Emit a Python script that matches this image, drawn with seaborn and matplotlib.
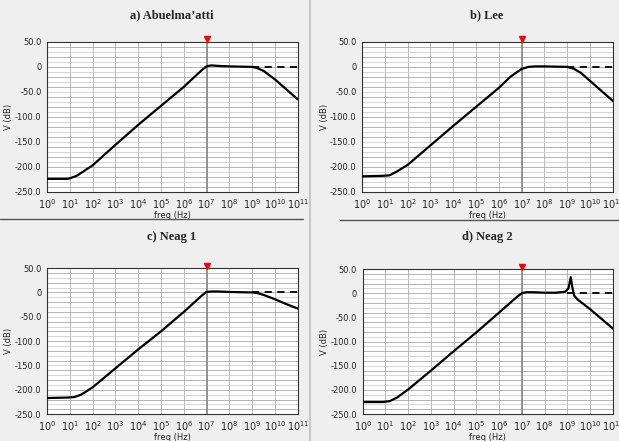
import numpy as np
import pandas as pd
import matplotlib
matplotlib.use('Agg')
import matplotlib.pyplot as plt
import seaborn as sns

# log10(freq) points and V(dB)
a_logf = [0, 0.9, 1.0, 1.3, 1.5, 2, 3, 4, 5, 6, 6.8, 7.0, 7.2, 7.5, 8, 9, 9.2, 9.5, 10, 10.5, 11]
a_db = [-224, -224, -223, -218, -212, -197, -156, -116, -78, -40, -6, 1, 3, 2, 1, 0, -2, -8, -25, -45, -65]

b_logf = [0, 0.9, 1.2, 1.5, 2, 3, 4, 5, 6, 6.5, 7.0, 7.3, 7.6, 8, 9, 9.3, 9.6, 10, 10.5, 11]
b_db = [-219, -218, -217, -210, -196, -157, -118, -80, -42, -20, -4, 0, 1, 1, 0, -4, -12, -28, -48, -68]

c_logf = [0, 0.9, 1.2, 1.5, 2, 3, 4, 5, 6, 6.8, 7.0, 7.2, 7.5, 8, 9, 9.2, 9.5, 10, 10.5, 11]
c_db = [-217, -216, -215, -210, -195, -156, -117, -80, -40, -6, 1, 2, 2, 1, 0, -1, -5, -14, -24, -33]

d_logf = [0, 0.9, 1.2, 1.5, 2, 3, 4, 5, 6, 6.8, 7.0, 7.2, 7.5, 8, 8.5, 8.9, 9.05, 9.15, 9.22, 9.3, 9.45, 10, 10.5, 11]
d_db = [-225, -225, -223, -216, -199, -160, -120, -81, -40, -7, 0, 2, 2, 1, 1, 3, 10, 33, 12, -5, -13, -33, -53, -73]

ideal_logf = [9, 11]
ideal_db = [0, 0]

titles = ['a) Abuelma\u2019atti', 'b) Lee', 'c) Neag 1', 'd) Neag 2']
series = [(a_logf, a_db), (b_logf, b_db), (c_logf, c_db), (d_logf, d_db)]
y_ticks = [50, 0, -50, -100, -150, -200, -250]
y_labels = ['50.0', '0', '-50.0', '-100.0', '-150.0', '-200.0', '-250.0']
x_ticks = [10.0 ** k for k in range(12)]
x_labels = ['$10^{%d}$' % k for k in range(12)]

sns.set_style('white')
plt.rcParams['font.family'] = ['DejaVu Sans']

fig = plt.figure(figsize=(6.19, 4.41), dpi=100, facecolor='#efefef')

boxes = [
    [0.076, 0.565, 0.405, 0.340],
    [0.585, 0.565, 0.405, 0.340],
    [0.076, 0.061, 0.405, 0.331],
    [0.586, 0.061, 0.404, 0.329],
]
title_y = [0.966, 0.966, 0.462, 0.462]
title_x = [0.278, 0.787, 0.278, 0.787]

for i in range(4):
    ax = fig.add_axes(boxes[i])
    ax.set_facecolor('white')
    logf, db = series[i]
    df = pd.DataFrame({'freq': np.power(10.0, logf), 'db': db})
    ideal = pd.DataFrame({'freq': np.power(10.0, ideal_logf), 'db': ideal_db})

    ax.set_xscale('log')
    ax.set_xlim(1, 1e11)
    ax.set_ylim(-250, 50)

    # grid: every decade on x, every 10 dB on y
    for xt in x_ticks:
        ax.axvline(xt, color='#b0b0b0', lw=0.6, zorder=0)
    for yt in range(-240, 50, 10):
        c = '#a8a8a8' if yt % 20 == 0 else '#cfcfcf'
        ax.axhline(yt, color=c, lw=0.6, zorder=0)
    ax.axvline(1e7, color='#888888', lw=1.2, zorder=1)

    sns.lineplot(data=ideal, x='freq', y='db', ax=ax, color='black',
                 lw=1.3, linestyle=(0, (4, 3)), zorder=3)
    sns.lineplot(data=df, x='freq', y='db', ax=ax, color='black', lw=1.6, zorder=4)

    ax.plot([1e7], [55], marker='v', color='red', markersize=5, clip_on=False,
            linestyle='none', zorder=5)

    ax.set_xticks(x_ticks)
    ax.set_xticklabels(x_labels, fontsize=7)
    ax.xaxis.set_minor_locator(matplotlib.ticker.NullLocator())
    ax.set_yticks(y_ticks)
    ax.set_yticklabels(y_labels, fontsize=6)
    ax.tick_params(axis='both', direction='out', length=3, width=0.6,
                   color='#333333', pad=1)
    ax.set_xlabel('freq (Hz)', fontsize=6, labelpad=0)
    ax.set_ylabel('V (dB)', fontsize=6, labelpad=1)
    for s in ax.spines.values():
        s.set_color('#333333')
        s.set_linewidth(0.8)

    fig.text(title_x[i], title_y[i], titles[i], ha='center', va='center',
             fontsize=9, fontweight='bold', family=['Liberation Serif'])

# panel separators
fig.add_artist(plt.Line2D([0.5, 0.5], [0, 1], color='#c8c8c8', lw=1.5))
fig.add_artist(plt.Line2D([0, 0.49], [0.503, 0.503], color='#555555', lw=1.0))
fig.add_artist(plt.Line2D([0.55, 1.0], [0.501, 0.501], color='#555555', lw=1.0))

fig.savefig('out.png', dpi=100, facecolor=fig.get_facecolor())
